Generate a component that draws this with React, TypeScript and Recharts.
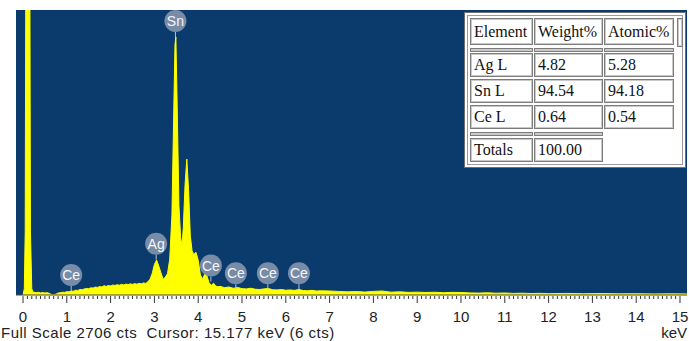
import { AreaChart, Area, XAxis, YAxis, CartesianGrid, ReferenceDot } from 'recharts';

const FULL_SCALE = 2706;
const CURSOR_KEV = 15.177;
const CURSOR_CTS = 6;

// [energy keV, counts]
const spectrum: [number, number][] = [
  [0.0, 0], [0.03, 60], [0.05, 600], [0.08, 6000], [0.11, 16000], [0.14, 6000],
  [0.17, 600], [0.2, 60], [0.23, 28], [0.3, 22], [0.35, 26], [0.4, 20],
  [0.45, 24], [0.5, 19], [0.55, 22], [0.6, 16], [0.64, 6], [0.68, 2],
  [0.72, 3], [0.76, 10], [0.8, 18], [0.85, 22], [0.9, 26], [0.95, 25],
  [1.0, 32], [1.05, 30], [1.1, 38], [1.15, 36], [1.2, 45], [1.25, 43],
  [1.3, 52], [1.35, 50], [1.4, 58], [1.45, 62], [1.5, 60], [1.55, 68],
  [1.6, 66], [1.65, 75], [1.7, 72], [1.75, 80], [1.8, 77], [1.85, 88],
  [1.9, 82], [1.95, 90], [2.0, 86], [2.05, 95], [2.1, 90], [2.15, 98],
  [2.2, 93], [2.25, 101], [2.3, 96], [2.35, 104], [2.4, 99], [2.45, 106],
  [2.5, 101], [2.55, 108], [2.6, 103], [2.65, 110], [2.7, 106], [2.75, 115],
  [2.8, 110], [2.85, 125], [2.9, 150], [2.95, 205], [3.0, 290], [3.05, 332],
  [3.1, 275], [3.15, 210], [3.2, 150], [3.25, 170], [3.3, 205], [3.35, 340],
  [3.4, 760], [3.44, 1700], [3.47, 2380], [3.49, 2450], [3.52, 1800], [3.56, 850],
  [3.6, 540], [3.63, 470], [3.66, 640], [3.7, 1050], [3.74, 1290], [3.78, 1000],
  [3.82, 560], [3.86, 420], [3.9, 385], [3.95, 405], [4.0, 330], [4.05, 190],
  [4.1, 150], [4.15, 200], [4.2, 180], [4.25, 115], [4.3, 92], [4.35, 112],
  [4.4, 86], [4.45, 78], [4.5, 82], [4.6, 70], [4.7, 76], [4.8, 64],
  [4.9, 72], [5.0, 60], [5.1, 58], [5.2, 64], [5.3, 55], [5.4, 52],
  [5.5, 58], [5.6, 62], [5.7, 50], [5.8, 48], [5.9, 52], [6.0, 45],
  [6.1, 48], [6.2, 44], [6.3, 52], [6.4, 42], [6.5, 40], [6.6, 44],
  [6.7, 38], [6.8, 40], [7.0, 38], [7.2, 34], [7.4, 30], [7.6, 33],
  [7.8, 28], [8.0, 34], [8.2, 38], [8.4, 27], [8.6, 30], [8.8, 25],
  [9.0, 27], [9.2, 24], [9.4, 26], [9.6, 22], [9.8, 25], [10.0, 24],
  [10.2, 20], [10.4, 18], [10.6, 21], [10.8, 17], [11.0, 19], [11.2, 15],
  [11.4, 17], [11.6, 14], [11.8, 16], [12.0, 13], [12.4, 15], [12.8, 12],
  [13.2, 14], [13.6, 11], [14.0, 12], [14.4, 10], [14.8, 11], [15.2, 10],
];

const majorTicks = [0, 1, 2, 3, 4, 5, 6, 7, 8, 9, 10, 11, 12, 13, 14, 15];

// peak labels: element, energy, count level the stem points at
const markerElements = ['Ce', 'Ag', 'Sn', 'Ce', 'Ce', 'Ce', 'Ce'];
const markerKeV = [1.1, 3.04, 3.48, 4.29, 4.86, 5.59, 6.3];
const markerCts = [38, 335, 2450, 128, 55, 55, 55];

// quant results
const tableHeader = ['Element', 'Weight%', 'Atomic%'];
const tableElements = ['Ag L', 'Sn L', 'Ce L'];
const weightPct = ['4.82', '94.54', '0.64'];
const atomicPct = ['5.28', '94.18', '0.54'];
const totalWeight = '100.00';

const data = spectrum.map(([kev, cts]) => ({ kev, cts }));

// ruler: tenth-keV marks between the integer labels
const minorTicks = majorTicks.flatMap((t) =>
  t < 15 ? Array.from({ length: 10 }, (_, i) => Math.round((t + i / 10) * 10) / 10) : [t]
);

const SANS = '"Liberation Sans", Arial, sans-serif';
const PLOT_BG = '#0b3a6c';
const YELLOW = '#ffff00';

function RulerTick(props: any) {
  const { x, y, payload } = props;
  const v = payload.value as number;
  const major = Math.abs(v - Math.round(v)) < 1e-6;
  return (
    <g>
      <line x1={x} x2={x} y1={y + 1} y2={y + (major ? 8 : 4)} stroke="#333" strokeWidth={1} />
      {major && (
        <text x={x} y={y + 27} textAnchor="middle" fontFamily={SANS} fontSize={15} fill="#222">
          {Math.round(v)}
        </text>
      )}
    </g>
  );
}

function PeakMarker(props: any) {
  const { cx, cy, label } = props;
  const r = 11;
  const cyc = cy - 16;
  return (
    <g>
      <line x1={cx} x2={cx} y1={cyc + r} y2={cy} stroke="#b8c4d6" strokeWidth={1} />
      <circle cx={cx} cy={cyc} r={r} fill="#8495ae" fillOpacity={0.9} />
      <text
        x={cx}
        y={cyc + 5}
        textAnchor="middle"
        fontFamily={SANS}
        fontSize={14}
        fill="#f4f6fa"
      >
        {label}
      </text>
    </g>
  );
}

function Cell({ left, top, width, height, text }: { left: number; top: number; width: number; height: number; text?: string }) {
  return (
    <div
      style={{
        position: 'absolute',
        left,
        top,
        width,
        height,
        boxSizing: 'border-box',
        border: '1px solid #7c7c7c',
        boxShadow: 'inset 0 0 0 1px #c9c9c9',
        paddingLeft: 3,
        lineHeight: `${height - 2}px`,
        fontFamily: '"Liberation Serif", "Times New Roman", serif',
        fontSize: 16,
        color: '#111',
        whiteSpace: 'nowrap',
        overflow: 'hidden',
      }}
    >
      {text}
    </div>
  );
}

function ResultsTable() {
  const colLeft = [5, 69, 139];
  const colWidth = [63, 69, 70];
  const rowTop = [51, 77, 103];
  return (
    <div
      style={{
        position: 'absolute',
        left: 464,
        top: 12,
        width: 222,
        height: 156,
        background: '#fff',
        boxSizing: 'border-box',
        border: '1px solid #6f6f6f',
      }}
    >
      <div
        style={{
          position: 'absolute',
          left: 2,
          top: 2,
          width: 216,
          height: 150,
          boxSizing: 'border-box',
          border: '1px solid #9a9a9a',
        }}
      />
      {tableHeader.map((h, i) => (
        <Cell key={h} left={colLeft[i]} top={5} width={colWidth[i]} height={27} text={h} />
      ))}
      <Cell left={212} top={5} width={6} height={29} />
      {tableHeader.map((h, i) => (
        <Cell key={'sep' + h} left={colLeft[i]} top={35} width={colWidth[i]} height={4} />
      ))}
      {tableElements.map((el, r) => (
        <div key={el}>
          <Cell left={colLeft[0]} top={rowTop[r] - 11} width={colWidth[0]} height={24} text={el} />
          <Cell left={colLeft[1]} top={rowTop[r] - 11} width={colWidth[1]} height={24} text={weightPct[r]} />
          <Cell left={colLeft[2]} top={rowTop[r] - 11} width={colWidth[2]} height={24} text={atomicPct[r]} />
        </div>
      ))}
      <Cell left={colLeft[0]} top={119} width={colWidth[0]} height={4} />
      <Cell left={colLeft[1]} top={119} width={colWidth[1]} height={4} />
      <Cell left={colLeft[0]} top={125} width={colWidth[0]} height={24} text="Totals" />
      <Cell left={colLeft[1]} top={125} width={colWidth[1]} height={24} text={totalWeight} />
    </div>
  );
}

export default function App() {
  return (
    <div
      style={{
        position: 'absolute',
        left: 0,
        top: 0,
        width: 689,
        height: 341,
        background: '#fff',
        overflow: 'hidden',
      }}
    >
      <AreaChart width={689} height={341} data={data} margin={{ top: 10, right: 2, left: 16, bottom: 6 }}>
        <CartesianGrid horizontal={false} vertical={false} fill={PLOT_BG} fillOpacity={1} />
        <XAxis
          dataKey="kev"
          type="number"
          domain={[-0.16, 15.16]}
          allowDataOverflow
          ticks={minorTicks}
          interval={0}
          tickLine={false}
          tickSize={0}
          tickMargin={0}
          height={40}
          axisLine={{ stroke: '#444', strokeWidth: 1 }}
          tick={<RulerTick />}
        />
        <YAxis hide type="number" domain={[0, FULL_SCALE]} allowDataOverflow />
        <Area
          type="linear"
          dataKey="cts"
          stroke={YELLOW}
          strokeWidth={1}
          fill={YELLOW}
          fillOpacity={1}
          baseValue={0}
          dot={false}
          activeDot={false}
          isAnimationActive={false}
        />
        {markerElements.map((el, i) => (
          <ReferenceDot
            key={i}
            x={markerKeV[i]}
            y={markerCts[i]}
            r={11}
            ifOverflow="visible"
            shape={(p: any) => <PeakMarker {...p} label={el} />}
          />
        ))}
      </AreaChart>
      <ResultsTable />
      <div
        style={{
          position: 'absolute',
          left: 1,
          top: 325,
          fontFamily: SANS,
          fontSize: 15,
          letterSpacing: 0.5,
          lineHeight: '16px',
          color: '#222',
          whiteSpace: 'pre',
        }}
      >
        {`Full Scale ${FULL_SCALE} cts  Cursor: ${CURSOR_KEV.toFixed(3)} keV (${CURSOR_CTS} cts)`}
      </div>
      <div
        style={{
          position: 'absolute',
          right: 2,
          top: 325,
          fontFamily: SANS,
          fontSize: 15,
          lineHeight: '16px',
          color: '#222',
        }}
      >
        keV
      </div>
    </div>
  );
}
